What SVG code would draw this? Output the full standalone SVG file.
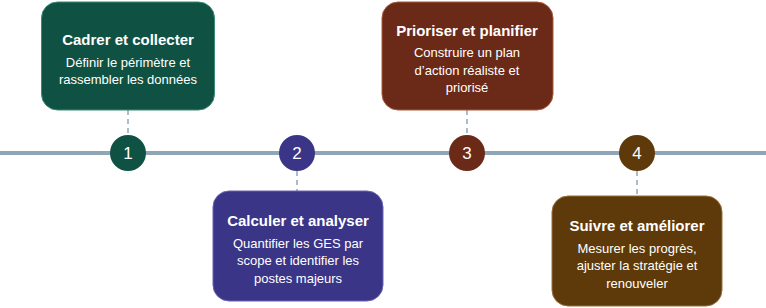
<svg xmlns="http://www.w3.org/2000/svg" width="766" height="308" viewBox="0 0 766 308">
<style>
.t{font-family:"Liberation Sans",Arial,sans-serif;font-weight:bold;font-size:15px;fill:#fff;text-anchor:middle}
.d{font-family:"Liberation Sans",Arial,sans-serif;font-size:13px;fill:#fff;text-anchor:middle}
.n{font-family:"Liberation Sans",Arial,sans-serif;font-size:17px;fill:#fff;text-anchor:middle}
.c{stroke:#8fa5b8;stroke-width:1.5;stroke-dasharray:5,4;fill:none}
</style>
<rect width="766" height="308" fill="#fff"/>
<line x1="0" y1="153" x2="766" y2="153" stroke="#8fa5b8" stroke-width="4"/>
<g id="connectors">
<line class="c" x1="128" y1="110" x2="128" y2="135"/>
<line class="c" x1="297" y1="171" x2="297" y2="191"/>
<line class="c" x1="467" y1="110" x2="467" y2="135"/>
<line class="c" x1="637" y1="171" x2="637" y2="196"/>
</g>
<g id="step1">
<rect x="41.5" y="2" width="173" height="108" rx="16" fill="#0f5243" stroke="#3f8a74" stroke-width="1"/>
<text class="t" x="128" y="45">Cadrer et collecter</text>
<text class="d" x="128" y="67">Définir le périmètre et</text>
<text class="d" x="128" y="84">rassembler les données</text>
<circle cx="128" cy="153" r="18" fill="#0f5243"/>
<text class="n" x="128" y="159">1</text>
</g>
<g id="step2">
<rect x="213" y="191" width="170" height="110" rx="16" fill="#3b3587" stroke="#6a64b3" stroke-width="1"/>
<text class="t" x="298" y="226">Calculer et analyser</text>
<text class="d" x="298" y="248">Quantifier les GES par</text>
<text class="d" x="298" y="265">scope et identifier les</text>
<text class="d" x="298" y="283">postes majeurs</text>
<circle cx="297" cy="153" r="18" fill="#3b3587"/>
<text class="n" x="297" y="159">2</text>
</g>
<g id="step3">
<rect x="382" y="2" width="171" height="108" rx="16" fill="#6b2a17" stroke="#a85a3f" stroke-width="1"/>
<text class="t" x="467" y="36">Prioriser et planifier</text>
<text class="d" x="467" y="57">Construire un plan</text>
<text class="d" x="467" y="75">d’action réaliste et</text>
<text class="d" x="467" y="92">priorisé</text>
<circle cx="467" cy="153" r="18" fill="#6b2a17"/>
<text class="n" x="467" y="159">3</text>
</g>
<g id="step4">
<rect x="552" y="196" width="170" height="110" rx="16" fill="#5e3a0a" stroke="#96703a" stroke-width="1"/>
<text class="t" x="637" y="231">Suivre et améliorer</text>
<text class="d" x="637" y="253">Mesurer les progrès,</text>
<text class="d" x="637" y="270">ajuster la stratégie et</text>
<text class="d" x="637" y="288">renouveler</text>
<circle cx="637" cy="153" r="18" fill="#5e3a0a"/>
<text class="n" x="637" y="159">4</text>
</g>
</svg>
